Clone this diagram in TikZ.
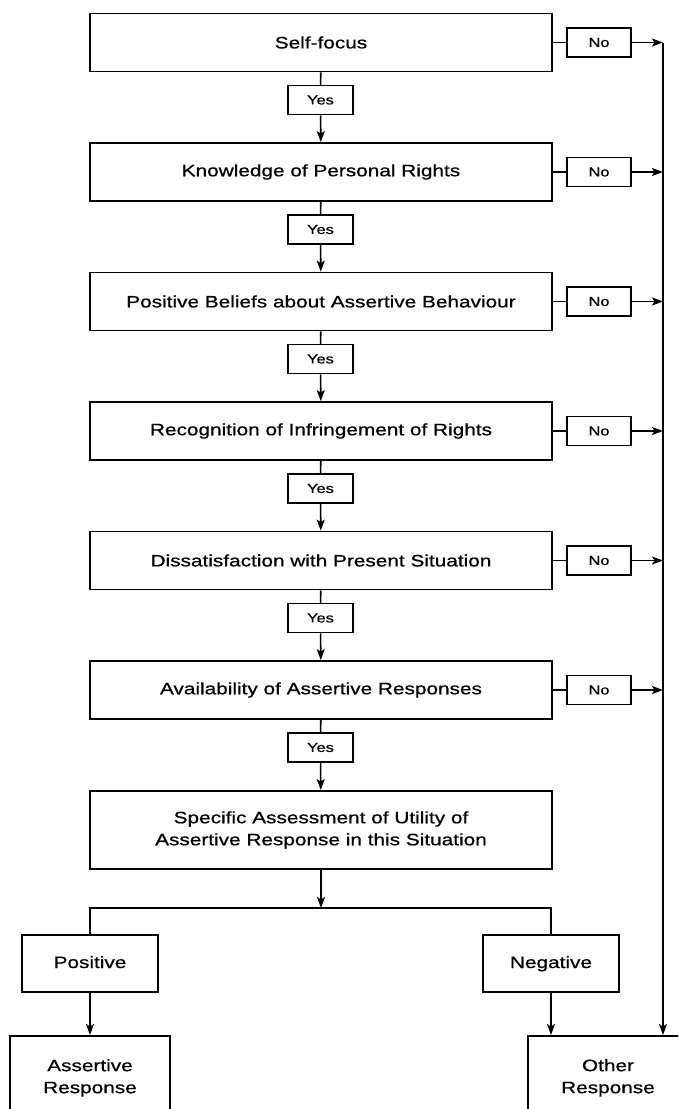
\documentclass[tikz,border=0pt]{standalone}
\usepackage{fontspec}
\setmainfont{Liberation Sans}[FakeStretch=1.26, FakeBold=0.7]
\usepackage{tikz}
\usetikzlibrary{arrows.meta}

\begin{document}
\begin{tikzpicture}[x=1pt, y=-1pt,
        box/.style={draw, line width=1.8pt, minimum width=462pt,
                    minimum height=58pt, align=center,
                    font=\fontsize{16.5}{22}\selectfont},
        ans/.style={draw, line width=1.5pt, minimum width=65pt,
                    minimum height=29pt, inner sep=0pt,
                    font=\fontsize{13}{14}\selectfont},
        res/.style={draw, line width=1.6pt, minimum width=136pt,
                    minimum height=57pt, text height=12pt, text depth=3pt,
                    font=\fontsize{16.5}{22}\selectfont},
        outbox/.style={draw, line width=1.8pt, minimum width=160pt,
                    minimum height=84pt, anchor=north, align=center,
                    font=\fontsize{16.5}{22}\selectfont},
        ln/.style={line width=1.6pt},
        arr/.style={-{Stealth[length=11pt, width=8pt, inset=2.5pt]}, line width=1.6pt}
    ]
        \clip (0,0) rectangle (678,1109);
        \fill[white] (0,0) rectangle (678,1109);

        \node[box] (sf) at (321, 42.5)  {Self-focus};
        \node[box] (kr) at (321, 172)   {Knowledge of Personal Rights};
        \node[box] (pb) at (321, 301.5) {Positive Beliefs about Assertive Behaviour};
        \node[box] (ri) at (321, 431)   {Recognition of Infringement of Rights};
        \node[box] (ds) at (321, 560.5) {Dissatisfaction with Present Situation};
        \node[box] (av) at (321, 690)   {Availability of Assertive Responses};
        \node[box, minimum height=78pt] (sa) at (321, 830)
            {Specific Assessment of Utility of\\Assertive Response in this Situation};

        \node[ans] (y1) at (320.5, 100)   {Yes};
        \node[ans] (y2) at (320.5, 229.5) {Yes};
        \node[ans] (y3) at (320.5, 359)   {Yes};
        \node[ans] (y4) at (320.5, 488.5) {Yes};
        \node[ans] (y5) at (320.5, 618)   {Yes};
        \node[ans] (y6) at (320.5, 747.5) {Yes};

        \node[ans, minimum width=64pt] (n1) at (599, 42.5)  {No};
        \node[ans, minimum width=64pt] (n2) at (599, 172)   {No};
        \node[ans, minimum width=64pt] (n3) at (599, 301.5) {No};
        \node[ans, minimum width=64pt] (n4) at (599, 431)   {No};
        \node[ans, minimum width=64pt] (n5) at (599, 560.5) {No};
        \node[ans, minimum width=64pt] (n6) at (599, 690)   {No};

        \node[res] (pos) at (90, 963.5)  {Positive};
        \node[res] (neg) at (551, 963.5) {Negative};
        \node[outbox] (ar) at (90, 1035)  {Assertive\\Response};
        \node[outbox] (or) at (608, 1035) {Other\\Response};

        \coordinate (rail) at (663, 42.5);
        \coordinate (fork) at (321, 908);

        % yes chain
        \draw[ln] (sf) -- (y1);  \draw[arr] (y1) -- (kr);
        \draw[ln] (kr) -- (y2);  \draw[arr] (y2) -- (pb);
        \draw[ln] (pb) -- (y3);  \draw[arr] (y3) -- (ri);
        \draw[ln] (ri) -- (y4);  \draw[arr] (y4) -- (ds);
        \draw[ln] (ds) -- (y5);  \draw[arr] (y5) -- (av);
        \draw[ln] (av) -- (y6);  \draw[arr] (y6) -- (sa);

        % no branches
        \draw[ln] (sf) -- (n1);  \draw[arr] (n1) -- (rail |- n1);
        \draw[ln] (kr) -- (n2);  \draw[arr] (n2) -- (rail |- n2);
        \draw[ln] (pb) -- (n3);  \draw[arr] (n3) -- (rail |- n3);
        \draw[ln] (ri) -- (n4);  \draw[arr] (n4) -- (rail |- n4);
        \draw[ln] (ds) -- (n5);  \draw[arr] (n5) -- (rail |- n5);
        \draw[ln] (av) -- (n6);  \draw[arr] (n6) -- (rail |- n6);
        \draw[arr] (rail) -- (rail |- or.north);

        % outcome
        \draw[arr] (sa) -- (fork);
        \draw[ln] (pos.north) |- (fork) -| (neg.north);
        \draw[arr] (pos) -- (ar);
        \draw[arr] (neg.south) -- (neg.south |- or.north);
    \end{tikzpicture}
\end{document}
